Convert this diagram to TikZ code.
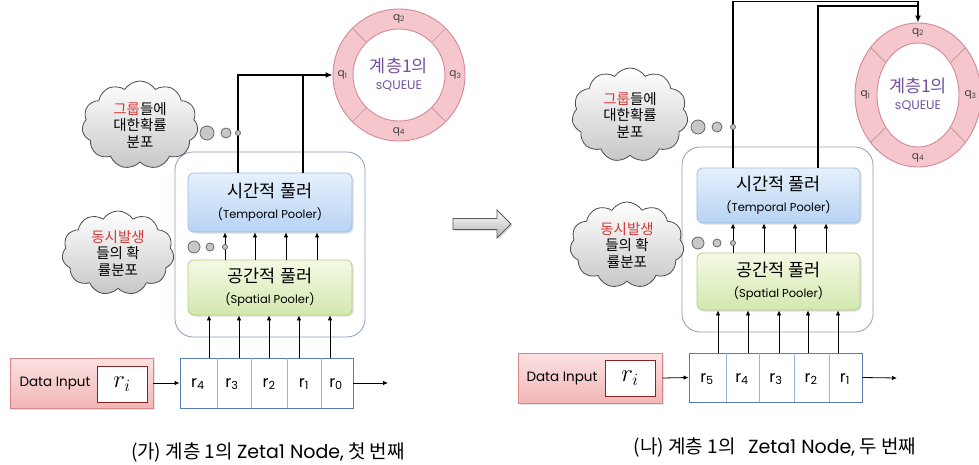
\documentclass[tikz,border=0pt]{standalone}
\usepackage{fontspec}
\setmainfont{Noto Sans CJK KR}
\newfontfamily\geo{Poppins}
\usetikzlibrary{shapes.symbols,shapes.geometric,arrows.meta,calc,shadows}
\definecolor{tpTop}{HTML}{E6F0FC}
\definecolor{tpBot}{HTML}{B7D3F4}
\definecolor{tpLine}{HTML}{9DBDE2}
\definecolor{spTop}{HTML}{F4F9E4}
\definecolor{spBot}{HTML}{D3E8AE}
\definecolor{spLine}{HTML}{B4CE88}
\definecolor{outLine}{HTML}{8C9CBE}
\definecolor{regLine}{HTML}{587DB4}
\definecolor{regDiv}{HTML}{9AB3D6}
\definecolor{diTop}{HTML}{FBE2E2}
\definecolor{diBot}{HTML}{F2B6B6}
\definecolor{diLine}{HTML}{D98585}
\definecolor{riLine}{HTML}{8A2424}
\definecolor{ringFill}{HTML}{F5C7CC}
\definecolor{ringLine}{HTML}{D48894}
\definecolor{ringDiv}{HTML}{B8959B}
\definecolor{qPurple}{HTML}{7452A0}
\definecolor{hiRed}{HTML}{D23A3A}
\begin{document}
\begin{tikzpicture}[x=1pt,y=-1pt,
  bigarr/.style={line width=1.5pt,-{Latex[length=7pt,width=6pt]}},
  bigline/.style={line width=1.5pt},
  smallarr/.style={line width=0.8pt,-{Latex[length=5pt,width=4.5pt]}},
  outerbox/.style={rectangle,rounded corners=18pt,draw=outLine,line width=0.8pt,fill=white},
  tpbox/.style={rectangle,rounded corners=6pt,draw=tpLine,line width=0.8pt,top color=tpTop,bottom color=tpBot,align=center,inner sep=0pt,
     drop shadow={opacity=0.25,shadow xshift=1.5pt,shadow yshift=-1.5pt},font=\fontsize{17.5}{21}\selectfont},
  spbox/.style={rectangle,rounded corners=6pt,draw=spLine,line width=0.8pt,top color=spTop,bottom color=spBot,align=center,inner sep=0pt,
     drop shadow={opacity=0.25,shadow xshift=1.5pt,shadow yshift=-1.5pt},font=\fontsize{17.5}{21}\selectfont},
  eng/.style={},
  regbox/.style={rectangle,draw=regLine,line width=0.9pt,fill=white,inner sep=0pt},
  regdiv/.style={draw=regDiv,line width=0.7pt},
  reglabel/.style={font=\geo\fontsize{16}{16}\selectfont,inner sep=0pt},
  databox/.style={rectangle,draw=diLine,line width=0.9pt,top color=diTop,bottom color=diBot,inner sep=0pt,
     drop shadow={opacity=0.2,shadow xshift=1.5pt,shadow yshift=-1.5pt}},
  ribox/.style={rectangle,draw=riLine,line width=1pt,fill=white,minimum width=50pt,minimum height=36pt,inner sep=0pt,font=\fontsize{23}{23}\selectfont},
  dilabel/.style={font=\geo\fontsize{13.5}{13.5}\selectfont,inner sep=0pt},
  cloudbox/.style={cloud,cloud puffs=11,cloud puff arc=115,draw=black!70,line width=0.8pt,top color=white,bottom color=black!22,
     align=center,inner sep=0pt,font=\fontsize{14.5}{16.5}\selectfont},
  bub/.style={circle,draw=black!60,line width=0.8pt,fill=black!22,inner sep=0pt},
  ringout/.style={draw=ringLine,line width=0.9pt,fill=ringFill,inner sep=0pt},
  ringin/.style={draw=ringLine,line width=0.9pt,fill=white,inner sep=0pt,align=center,text=qPurple,font=\fontsize{17.5}{19}\selectfont},
  ringdiv/.style={draw=ringDiv,line width=0.7pt},
  qlabel/.style={font=\geo\fontsize{10.5}{10.5}\selectfont,text=black!75,inner sep=0pt},
  caption/.style={font=\fontsize{19}{19}\selectfont,inner sep=0pt}
]
\useasboundingbox[fill=white] (0,0) rectangle (979,465);

% ================= LEFT PANEL =================
\node[ringout,circle,minimum size=132pt] (ringA) at (399,75) {};
\node[ringin,circle,minimum size=92pt] (innerA) at (399,75) {계층1의\\[-2pt]{\geo\fontsize{12.5}{13}\selectfont sQUEUE}};
\foreach \a in {45,135,225,315} \draw[ringdiv] (ringA.\a) -- (innerA.\a);
\node[qlabel] (qA1) at ($(ringA.west)!0.5!(innerA.west)$) {q\textsubscript{1}};
\node[qlabel] (qA2) at ($(ringA.north)!0.5!(innerA.north)$) {q\textsubscript{2}};
\node[qlabel] (qA3) at ($(ringA.east)!0.5!(innerA.east)$) {q\textsubscript{3}};
\node[qlabel] (qA4) at ($(ringA.south)!0.5!(innerA.south)$) {q\textsubscript{4}};

\node[outerbox,minimum width=190pt,minimum height=185pt] (outerA) at (270,244.5) {};
\node[tpbox,minimum width=164pt,minimum height=59pt] (tpA) at (270,202.5) {시간적 풀러\\{\geo\fontsize{11.5}{13}\selectfont (Temporal Pooler)}};
\node[spbox,minimum width=164pt,minimum height=55pt] (spA) at (270,287.5) {공간적 풀러\\{\geo\fontsize{11.5}{13}\selectfont (Spatial Pooler)}};

\node[cloudbox,minimum width=116pt,minimum height=88pt] (cloudA1) at (140,125) {{\color{hiRed}그룹}들에\\대한확률\\분포};
\node[cloudbox,minimum width=112pt,minimum height=84pt] (cloudA2) at (118,253) {{\color{hiRed}동시발생}\\들의 확\\률분포};

\draw[bigarr] (tpA.north -| 238,0) |- (ringA.west);
\draw[bigline] (tpA.north -| 303,0) -- (ringA.west -| 303,0);
\foreach \x in {225,255,286,317} \draw[smallarr] (spA.north -| \x,0) -- (tpA.south -| \x,0);

\node[bub,minimum size=14pt] (bA1) at (207,133) {};
\node[bub,minimum size=10pt] (bA2) at (226,133) {};
\node[bub,minimum size=5pt] (bA3) at (238,133) {};
\node[bub,minimum size=12pt] (bA4) at (194,247) {};
\node[bub,minimum size=8pt] (bA5) at (210,247) {};
\node[bub,minimum size=5pt] (bA6) at (225,247) {};

\node[regbox,minimum width=173pt,minimum height=50pt] (regA) at (266.5,383) {};
\foreach \x in {217,251,287,321} \draw[regdiv] (regA.north -| \x,0) -- (regA.south -| \x,0);
\node[reglabel] (rA4) at (198,384) {r\textsubscript{4}};
\node[reglabel] (rA3) at (232,384) {r\textsubscript{3}};
\node[reglabel] (rA2) at (269,384) {r\textsubscript{2}};
\node[reglabel] (rA1) at (304,384) {r\textsubscript{1}};
\node[reglabel] (rA0) at (336,384) {r\textsubscript{0}};
\foreach \x in {209,239,269,299,330} \draw[smallarr] (regA.north -| \x,0) -- (spA.south -| \x,0);
\coordinate (outA) at (388,383);
\draw[smallarr] (regA.east) -- (outA);

\node[databox,minimum width=143pt,minimum height=50pt] (dataA) at (81.5,383) {};
\node[dilabel] (dlA) at (55,384) {Data Input};
\node[ribox] (riA) at (122,384) {$r_i$};
\draw[smallarr] (dataA.east) -- (regA.west);

\node[caption] (capA) at (268,452) {(가) 계층 1의 {\geo Zeta1 Node,} 첫 번째};

% ================= MIDDLE ARROW =================
\draw[draw=black!65,line width=0.9pt,top color=white,bottom color=black!30,
  drop shadow={opacity=0.25,shadow xshift=1.5pt,shadow yshift=-1.5pt}]
  (453,218.5) -- (497,218.5) -- (497,210) -- (511,224) -- (497,238) -- (497,229.5) -- (453,229.5) -- cycle;

% ================= RIGHT PANEL =================
\node[ringout,ellipse,minimum width=126pt,minimum height=144pt] (ringB) at (918,95) {};
\node[ringin,ellipse,minimum width=78pt,minimum height=104pt] (innerB) at (918,95) {계층1의\\[-2pt]{\geo\fontsize{12.5}{13}\selectfont sQUEUE}};
\foreach \a in {45,135,225,315} \draw[ringdiv] (ringB.\a) -- (innerB.\a);
\node[qlabel] (qB1) at ($(ringB.west)!0.5!(innerB.west)$) {q\textsubscript{1}};
\node[qlabel] (qB2) at ($(ringB.north)!0.5!(innerB.north)$) {q\textsubscript{2}};
\node[qlabel] (qB3) at ($(ringB.east)!0.5!(innerB.east)$) {q\textsubscript{3}};
\node[qlabel] (qB4) at ($(ringB.south)!0.5!(innerB.south)$) {q\textsubscript{4}};

\node[outerbox,minimum width=191pt,minimum height=185pt] (outerB) at (777.5,239.5) {};
\node[tpbox,minimum width=163pt,minimum height=55pt] (tpB) at (778.5,195.5) {시간적 풀러\\{\geo\fontsize{11.5}{13}\selectfont (Temporal Pooler)}};
\node[spbox,minimum width=163pt,minimum height=57pt] (spB) at (778.5,281.5) {공간적 풀러\\{\geo\fontsize{11.5}{13}\selectfont (Spatial Pooler)}};

\node[cloudbox,minimum width=116pt,minimum height=94pt] (cloudB1) at (630,115) {{\color{hiRed}그룹}들에\\대한확률\\분포};
\node[cloudbox,minimum width=114pt,minimum height=86pt] (cloudB2) at (627,245) {{\color{hiRed}동시발생}\\들의 확\\률분포};

\coordinate (topB1) at (733,1.5);
\coordinate (topB2) at (818,6);
\draw[bigarr] (tpB.north -| topB1) -- (topB1) -| (ringB.north);
\draw[bigline] (tpB.north -| topB2) -- (topB2) -- (topB2 -| ringB.north);
\foreach \x in {733,764,795,826} \draw[smallarr] (spB.north -| \x,0) -- (tpB.south -| \x,0);

\node[bub,minimum size=14pt] (bB1) at (698,127) {};
\node[bub,minimum size=10pt] (bB2) at (717,127) {};
\node[bub,minimum size=5pt] (bB3) at (733,127) {};
\node[bub,minimum size=12pt] (bB4) at (698,243) {};
\node[bub,minimum size=8pt] (bB5) at (717,243) {};
\node[bub,minimum size=5pt] (bB6) at (733,243) {};

\node[regbox,minimum width=173pt,minimum height=49pt] (regB) at (775.5,377.5) {};
\foreach \x in {726,759,794,829} \draw[regdiv] (regB.north -| \x,0) -- (regB.south -| \x,0);
\node[reglabel] (rB5) at (707,379) {r\textsubscript{5}};
\node[reglabel] (rB4) at (742,379) {r\textsubscript{4}};
\node[reglabel] (rB3) at (776,379) {r\textsubscript{3}};
\node[reglabel] (rB2) at (811,379) {r\textsubscript{2}};
\node[reglabel] (rB1) at (845,379) {r\textsubscript{1}};
\foreach \x in {718,748,779,808,838} \draw[smallarr] (regB.north -| \x,0) -- (spB.south -| \x,0);
\coordinate (outB) at (897,378);
\draw[smallarr] (regB.east) -- (outB);

\node[databox,minimum width=144pt,minimum height=50pt] (dataB) at (590,378) {};
\node[dilabel] (dlB) at (562,379) {Data Input};
\node[ribox] (riB) at (630,378) {$r_i$};
\draw[smallarr] (dataB.east) -- (regB.west);

\node[caption] (capB) at (775,447) {(나) 계층 1의~~ {\geo Zeta1 Node,} 두 번째};
\end{tikzpicture}
\end{document}
